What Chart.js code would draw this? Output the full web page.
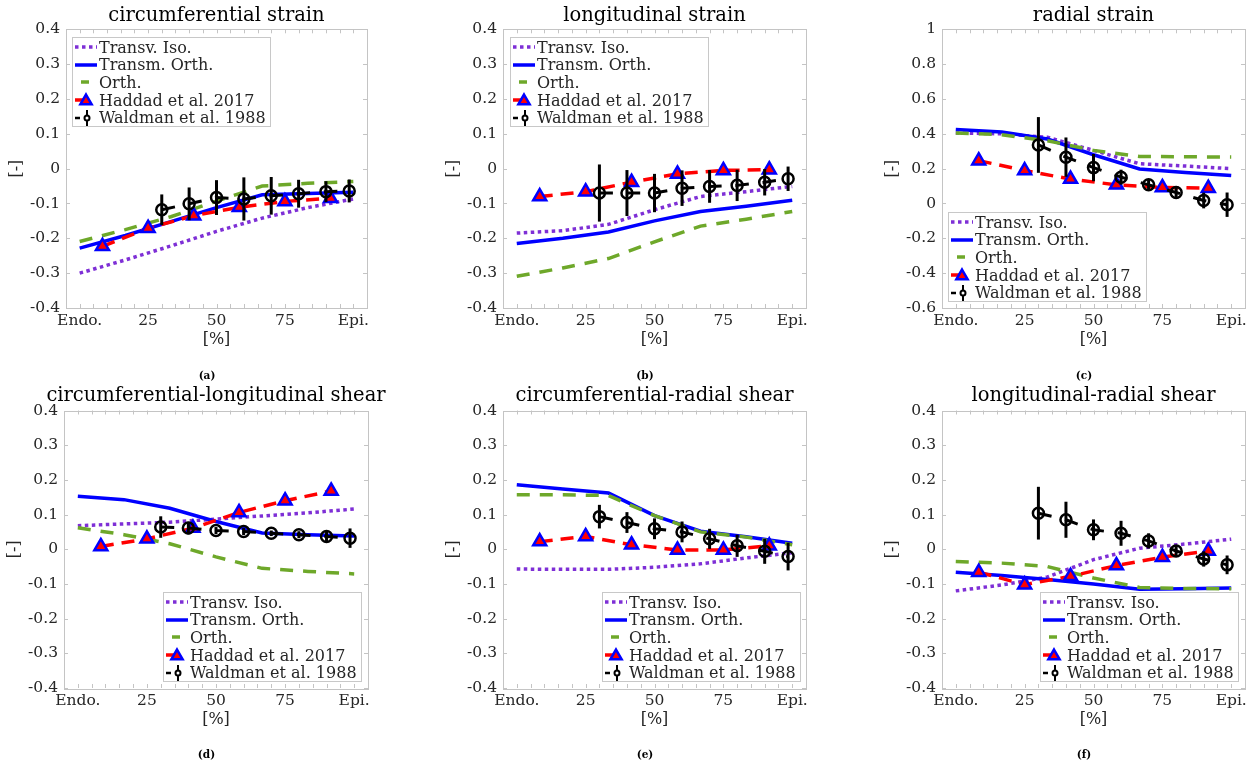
<!DOCTYPE html>
<html><head><meta charset="utf-8">
<script src="https://cdn.jsdelivr.net/npm/chart.js@4.4.0/dist/chart.umd.min.js"></script>
<style>
html,body{margin:0;padding:0;background:#fff;}
body{width:1258px;height:766px;position:relative;overflow:hidden;font-family:'DejaVu Serif',serif;}
.panel{position:absolute;}
.ttl{position:absolute;width:440px;text-align:center;font-size:19.5px;line-height:30px;color:#000;white-space:nowrap;}
.cap{position:absolute;width:60px;text-align:center;font-size:10.5px;font-weight:bold;line-height:14px;color:#000;}
.leg{position:absolute;background:#fff;border:1px solid #c8c8c8;box-sizing:border-box;padding-top:0.5px;z-index:5;}
.row{height:17.6px;display:flex;align-items:center;font-size:16px;color:#262626;white-space:nowrap;}
.row canvas{margin-left:1px;margin-right:1px;}
</style></head><body>
<script>
// ---------- data ----------
const seriesNames = ['Transv. Iso.', 'Transm. Orth.', 'Orth.', 'Haddad et al. 2017', 'Waldman et al. 1988'];
const panelTitles = ['circumferential strain', 'longitudinal strain', 'radial strain',
  'circumferential-longitudinal shear', 'circumferential-radial shear', 'longitudinal-radial shear'];
const panelCaptions = ['(a)', '(b)', '(c)', '(d)', '(e)', '(f)'];

const xTickValues = [0, 25, 50, 75, 100];
const xTickLabels = ['Endo.', '25', '50', '75', 'Epi.'];
const yTickValuesStd = [-0.4, -0.3, -0.2, -0.1, 0, 0.1, 0.2, 0.3, 0.4];
const yTickLabelsStd = ['-0.4', '-0.3', '-0.2', '-0.1', '0', '0.1', '0.2', '0.3', '0.4'];
const yTickValuesRad = [-0.6, -0.4, -0.2, 0, 0.2, 0.4, 0.6, 0.8, 1];
const yTickLabelsRad = ['-0.6', '-0.4', '-0.2', '0', '0.2', '0.4', '0.6', '0.8', '1'];

const modelX = [0, 16.7, 33.3, 50, 66.7, 83.3, 100];
const haddadX = [8.33, 25, 41.67, 58.33, 75, 91.67];
const waldmanX = [30, 40, 50, 60, 70, 80, 90, 98.5];

// (a) circumferential strain
const isoA = [-0.300, -0.262, -0.222, -0.180, -0.142, -0.112, -0.087];
const tOrthA = [-0.228, -0.192, -0.152, -0.112, -0.075, -0.071, -0.068];
const orthA = [-0.209, -0.175, -0.138, -0.093, -0.050, -0.042, -0.037];
const haddadA = [-0.223, -0.171, -0.135, -0.111, -0.094, -0.085];
const waldA = [-0.118, -0.101, -0.083, -0.087, -0.078, -0.072, -0.066, -0.064];
const waldErrA = [0.044, 0.047, 0.050, 0.062, 0.054, 0.040, 0.030, 0.033];
// (b) longitudinal strain
const isoB = [-0.185, -0.178, -0.160, -0.118, -0.080, -0.066, -0.051];
const tOrthB = [-0.215, -0.200, -0.182, -0.150, -0.123, -0.108, -0.091];
const orthB = [-0.309, -0.285, -0.258, -0.210, -0.165, -0.145, -0.123];
const haddadB = [-0.080, -0.066, -0.039, -0.015, -0.005, -0.003];
const waldB = [-0.070, -0.070, -0.070, -0.056, -0.051, -0.048, -0.039, -0.029];
const waldErrB = [0.082, 0.066, 0.055, 0.051, 0.047, 0.045, 0.038, 0.035];
// (c) radial strain
const isoC = [0.405, 0.400, 0.380, 0.305, 0.228, 0.215, 0.200];
const tOrthC = [0.425, 0.410, 0.370, 0.280, 0.198, 0.178, 0.160];
const orthC = [0.405, 0.395, 0.360, 0.305, 0.270, 0.268, 0.267];
const haddadC = [0.246, 0.189, 0.140, 0.107, 0.092, 0.088];
const waldC = [0.336, 0.266, 0.206, 0.151, 0.107, 0.063, 0.017, -0.007];
const waldErrC = [0.160, 0.113, 0.078, 0.043, 0.030, 0.035, 0.045, 0.070];
// (d) circumferential-longitudinal shear
const isoD = [0.068, 0.073, 0.078, 0.087, 0.096, 0.105, 0.116];
const tOrthD = [0.153, 0.143, 0.118, 0.080, 0.047, 0.042, 0.038];
const orthD = [0.062, 0.042, 0.016, -0.022, -0.055, -0.064, -0.071];
const haddadD = [0.008, 0.030, 0.061, 0.106, 0.140, 0.168];
const waldD = [0.064, 0.061, 0.054, 0.051, 0.046, 0.042, 0.037, 0.032];
const waldErrD = [0.031, 0.018, 0.010, 0.010, 0.008, 0.010, 0.015, 0.028];
// (e) circumferential-radial shear
const isoE = [-0.057, -0.058, -0.058, -0.052, -0.042, -0.025, -0.010];
const tOrthE = [0.186, 0.174, 0.162, 0.097, 0.052, 0.036, 0.017];
const orthE = [0.157, 0.157, 0.155, 0.097, 0.050, 0.035, 0.013];
const haddadE = [0.022, 0.037, 0.013, -0.002, -0.002, 0.010];
const waldE = [0.094, 0.077, 0.059, 0.050, 0.030, 0.010, -0.006, -0.021];
const waldErrE = [0.034, 0.030, 0.030, 0.030, 0.029, 0.032, 0.036, 0.040];
// (f) longitudinal-radial shear
const isoF = [-0.120, -0.103, -0.080, -0.030, 0.003, 0.015, 0.029];
const tOrthF = [-0.066, -0.076, -0.087, -0.100, -0.115, -0.114, -0.112];
const orthF = [-0.035, -0.040, -0.050, -0.083, -0.110, -0.113, -0.114];
const haddadF = [-0.066, -0.102, -0.078, -0.047, -0.023, -0.005];
const waldF = [0.104, 0.085, 0.056, 0.046, 0.024, -0.005, -0.028, -0.045];
const waldErrF = [0.076, 0.052, 0.030, 0.036, 0.022, 0.015, 0.022, 0.027];

// ---------- styling / layout ----------
const PURPLE = '#7e2fd6', BLUE = '#0000ff', GREEN = '#6ea82a', RED = '#ff0000', BLACK = '#000000';
const AXIS_GRAY = '#c4c4c4', TEXT = '#262626';
const FONT = "'DejaVu Serif', serif";

const panels = [
  {iso: isoA, tOrth: tOrthA, orth: orthA, had: haddadA, wal: waldA, err: waldErrA, rad: false,
   plotL: 66, plotR: 367, row: 0, leg: [72, 37]},
  {iso: isoB, tOrth: tOrthB, orth: orthB, had: haddadB, wal: waldB, err: waldErrB, rad: false,
   plotL: 503, plotR: 806, row: 0, leg: [510, 37]},
  {iso: isoC, tOrth: tOrthC, orth: orthC, had: haddadC, wal: waldC, err: waldErrC, rad: true,
   plotL: 942, plotR: 1245, row: 0, leg: [948, 212]},
  {iso: isoD, tOrth: tOrthD, orth: orthD, had: haddadD, wal: waldD, err: waldErrD, rad: false,
   plotL: 64, plotR: 368, row: 1, leg: [163, 592]},
  {iso: isoE, tOrth: tOrthE, orth: orthE, had: haddadE, wal: waldE, err: waldErrE, rad: false,
   plotL: 503, plotR: 806, row: 1, leg: [602, 592]},
  {iso: isoF, tOrth: tOrthF, orth: orthF, had: haddadF, wal: waldF, err: waldErrF, rad: false,
   plotL: 942, plotR: 1245, row: 1, leg: [1040, 592]}
];
const rows = [
  {top: 0, plotTop: 29.3, plotBottom: 308.3, titleTop: 0, capY: 368},
  {top: 380, plotTop: 410.5, plotBottom: 688.3, titleTop: 380, capY: 747}
];
const Y_AXIS_W = 66, RIGHT_PAD = 40, X_AXIS_H = 72;

function pts(xs, ys) { return xs.map((x, i) => ({x: x, y: ys[i]})); }

// box + inward tick marks
const boxPlugin = {
  id: 'matlabBox',
  beforeDatasetsDraw(chart) {
    const {ctx, chartArea: a, scales: {x, y}} = chart;
    ctx.save();
    ctx.strokeStyle = AXIS_GRAY; ctx.lineWidth = 1;
    ctx.strokeRect(Math.round(a.left) + 0.5, Math.round(a.top) + 0.5,
      Math.round(a.right - a.left), Math.round(a.bottom - a.top));
    ctx.beginPath();
    const L = 4;
    for (let v = 0; v <= 100; v += 5) {
      const px = Math.round(x.getPixelForValue(v)) + 0.5;
      ctx.moveTo(px, a.bottom); ctx.lineTo(px, a.bottom - L);
      ctx.moveTo(px, a.top); ctx.lineTo(px, a.top + L);
    }
    y.ticks.forEach(t => {
      const py = Math.round(y.getPixelForValue(t.value)) + 0.5;
      ctx.moveTo(a.left, py); ctx.lineTo(a.left + L, py);
      ctx.moveTo(a.right, py); ctx.lineTo(a.right - L, py);
    });
    ctx.stroke();
    ctx.restore();
  }
};

// vertical error bars
const errorBarPlugin = {
  id: 'errorBars',
  afterDatasetDraw(chart, args) {
    const ds = chart.data.datasets[args.index];
    if (!ds.errors) return;
    const {ctx, scales: {x, y}} = chart;
    ctx.save();
    ctx.strokeStyle = BLACK; ctx.lineWidth = 3; ctx.setLineDash([]); ctx.lineCap = 'butt';
    ds.data.forEach((p, i) => {
      const px = x.getPixelForValue(p.x);
      ctx.beginPath();
      ctx.moveTo(px, y.getPixelForValue(p.y + ds.errors[i]));
      ctx.lineTo(px, y.getPixelForValue(p.y - ds.errors[i]));
      ctx.stroke();
    });
    ctx.restore();
  }
};

function makeDatasets(p) {
  return [
    {label: seriesNames[0], data: pts(modelX, p.iso), borderColor: PURPLE, borderWidth: 3.5,
     borderDash: [3.5, 3.5], pointRadius: 0, order: 5, borderCapStyle: 'butt'},
    {label: seriesNames[1], data: pts(modelX, p.tOrth), borderColor: BLUE, borderWidth: 3.5,
     pointRadius: 0, order: 4},
    {label: seriesNames[2], data: pts(modelX, p.orth), borderColor: GREEN, borderWidth: 3.5,
     borderDash: [13, 10], pointRadius: 0, order: 3},
    {label: seriesNames[3], data: pts(haddadX, p.had), borderColor: RED, borderWidth: 3.5,
     borderDash: [13, 8], pointStyle: 'triangle', pointRadius: 7.5, pointBorderWidth: 2.5,
     pointBackgroundColor: RED, pointBorderColor: BLUE, order: 2},
    {label: seriesNames[4], data: pts(waldmanX, p.wal), errors: p.err, borderColor: BLACK, borderWidth: 3,
     borderDash: [13.5, 13.8], pointStyle: 'circle', pointRadius: 5.5, pointBorderWidth: 2.5,
     pointBackgroundColor: 'rgba(0,0,0,0)', pointBorderColor: BLACK, order: 1}
  ];
}

function drawSwatch(cv, k) {
  const c = cv.getContext('2d');
  const m = cv.height / 2;
  c.lineCap = 'butt';
  function seg(x0, x1, col, w, dash) {
    c.save(); c.strokeStyle = col; c.lineWidth = w; c.setLineDash(dash || []);
    c.beginPath(); c.moveTo(x0, m); c.lineTo(x1, m); c.stroke(); c.restore();
  }
  if (k === 0) seg(1, 23, PURPLE, 3.5, [3.5, 3.5]);
  if (k === 1) seg(1, 23, BLUE, 3.5);
  if (k === 2) seg(7, 15, GREEN, 3.5);
  if (k === 3) {
    seg(1, 9, RED, 3.5);
    const r = 6.5, cx = 12, cy = m + 1;
    c.beginPath();
    for (let i = 0; i < 3; i++) {
      const ang = i * 2 * Math.PI / 3;
      const px = cx + Math.sin(ang) * r, py = cy - Math.cos(ang) * r;
      if (i === 0) c.moveTo(px, py); else c.lineTo(px, py);
    }
    c.closePath(); c.fillStyle = RED; c.fill();
    c.lineWidth = 2.5; c.strokeStyle = BLUE; c.stroke();
  }
  if (k === 4) {
    seg(1, 6, BLACK, 2.5);
    c.save(); c.strokeStyle = BLACK; c.lineWidth = 2;
    c.beginPath(); c.moveTo(13, m - 8); c.lineTo(13, m + 8); c.stroke();
    c.beginPath(); c.arc(13, m, 2.5, 0, 2 * Math.PI); c.fillStyle = '#fff'; c.fill(); c.stroke();
    c.restore();
  }
}

panels.forEach((p, idx) => {
  const r = rows[p.row];
  const plotW = p.plotR - p.plotL, plotH = r.plotBottom - r.plotTop;
  const padTop = r.plotTop - r.top;
  const W = Math.round(plotW + Y_AXIS_W + RIGHT_PAD);
  const H = Math.round(padTop + plotH + X_AXIS_H);
  const div = document.createElement('div');
  div.className = 'panel';
  div.style.left = (p.plotL - Y_AXIS_W) + 'px';
  div.style.top = r.top + 'px';
  div.style.width = W + 'px'; div.style.height = H + 'px';
  const cv = document.createElement('canvas');
  cv.width = W; cv.height = H;
  cv.style.width = W + 'px'; cv.style.height = H + 'px';
  div.appendChild(cv);
  document.body.appendChild(div);

  const yVals = p.rad ? yTickValuesRad : yTickValuesStd;
  const yLabs = p.rad ? yTickLabelsRad : yTickLabelsStd;

  new Chart(cv.getContext('2d'), {
    type: 'line',
    data: {datasets: makeDatasets(p)},
    options: {
      responsive: false, animation: false, devicePixelRatio: 1,
      layout: {padding: {top: padTop, right: RIGHT_PAD, left: 0, bottom: 0}},
      plugins: {legend: {display: false}, tooltip: {enabled: false}, title: {display: false}},
      elements: {line: {tension: 0, fill: false}},
      scales: {
        x: {
          type: 'linear', min: -5, max: 105,
          afterBuildTicks: s => { s.ticks = xTickValues.map(v => ({value: v})); },
          afterFit: s => { s.height = X_AXIS_H; },
          grid: {display: false, drawTicks: false},
          border: {display: false},
          ticks: {autoSkip: false, maxRotation: 0, padding: 4, color: TEXT,
                  font: {family: FONT, size: 15.5},
                  callback: (v, i) => xTickLabels[i]},
          title: {display: true, text: '[%]', color: TEXT, font: {family: FONT, size: 16},
                  padding: {top: 0, bottom: 30.7}}
        },
        y: {
          type: 'linear', min: yVals[0], max: yVals[yVals.length - 1],
          afterBuildTicks: s => { s.ticks = yVals.map(v => ({value: v})); },
          afterFit: s => { s.width = Y_AXIS_W; },
          grid: {display: false, drawTicks: false},
          border: {display: false},
          ticks: {autoSkip: false, padding: 6, color: TEXT,
                  font: {family: FONT, size: 15.5},
                  callback: (v, i) => yLabs[i]},
          title: {display: true, text: '[-]', color: TEXT, font: {family: FONT, size: 16},
                  padding: {top: 7.4, bottom: 0}}
        }
      }
    },
    plugins: [boxPlugin, errorBarPlugin]
  });

  // title
  const t = document.createElement('div');
  t.className = 'ttl';
  t.textContent = panelTitles[idx];
  t.style.left = ((p.plotL + p.plotR) / 2 - 220) + 'px';
  t.style.top = r.titleTop + 'px';
  document.body.appendChild(t);

  // caption
  const c = document.createElement('div');
  c.className = 'cap';
  c.textContent = panelCaptions[idx];
  c.style.left = ((p.plotL + p.plotR) / 2 - 9.5 - 30) + 'px';
  c.style.top = r.capY + 'px';
  document.body.appendChild(c);

  // legend
  const lg = document.createElement('div');
  lg.className = 'leg';
  lg.style.left = p.leg[0] + 'px'; lg.style.top = p.leg[1] + 'px';
  lg.style.width = '199px'; lg.style.height = '90px';
  seriesNames.forEach((name, k) => {
    const row = document.createElement('div');
    row.className = 'row';
    const sw = document.createElement('canvas');
    sw.width = 24; sw.height = 18;
    drawSwatch(sw, k);
    const sp = document.createElement('span');
    sp.textContent = name;
    row.appendChild(sw); row.appendChild(sp);
    lg.appendChild(row);
  });
  document.body.appendChild(lg);
});
</script>
</body></html>
